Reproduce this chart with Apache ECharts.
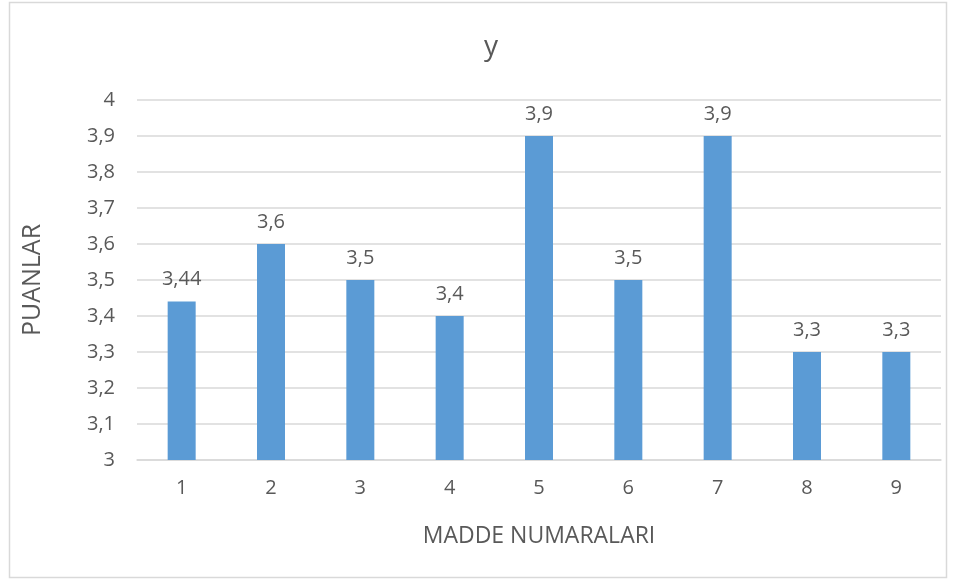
<!DOCTYPE html>
<html><head><meta charset="utf-8">
<script src="https://cdn.jsdelivr.net/npm/echarts@6/dist/echarts.min.js"></script>
<style>html,body{margin:0;padding:0;background:#fff}#c{width:953px;height:581px}</style>
</head><body><div id="c"></div>
<script>
const categories = ['1','2','3','4','5','6','7','8','9'];
const values = [3.44, 3.6, 3.5, 3.4, 3.9, 3.5, 3.9, 3.3, 3.3];
const yTicks = [3, 3.1, 3.2, 3.3, 3.4, 3.5, 3.6, 3.7, 3.8, 3.9, 4];
const fmt = v => String(v).replace('.', ',');
const FONT = '"Open Sans", "Liberation Sans", sans-serif';
const chart = echarts.init(document.getElementById('c'), null, {renderer:'canvas'});
chart.setOption({
  animation:false,
  backgroundColor:'#fff',
  graphic:[{type:'rect', shape:{x:9.5,y:2.5,width:937,height:575}, style:{fill:'none', stroke:'#d9d9d9', lineWidth:1.5}, silent:true}],
  title:{text:'y', left:486, textAlign:'center', top:28, textStyle:{color:'#595959', fontSize:28, fontWeight:'normal', fontFamily:FONT}},
  grid:{left:137, right:12, top:100, bottom:121},
  xAxis:{type:'category', data:categories,
    name:'MADDE NUMARALARI', nameLocation:'middle', nameGap:65,
    nameTextStyle:{color:'#595959', fontSize:23, fontFamily:FONT},
    axisLine:{lineStyle:{color:'#d9d9d9', width:1.5}}, axisTick:{show:false},
    axisLabel:{color:'#595959', fontSize:20, margin:18, fontFamily:FONT}},
  yAxis:{type:'value', min:3, max:4, interval:0.1,
    name:'PUANLAR', nameLocation:'middle', nameGap:92, nameRotate:90,
    nameTextStyle:{color:'#595959', fontSize:25, fontFamily:FONT},
    axisLine:{show:false}, axisTick:{show:false},
    splitLine:{lineStyle:{color:'#d9d9d9', width:1.5}},
    axisLabel:{color:'#595959', fontSize:20, margin:22, fontFamily:FONT,
      formatter: v => fmt(Math.round(v*10)/10)}},
  series:[{type:'bar', data:values, barWidth:28, itemStyle:{color:'#5b9bd5'},
    label:{show:true, position:'top', distance:12, color:'#595959', fontSize:20, fontFamily:FONT,
      formatter: p => fmt(p.value)}}]
});
</script></body></html>
